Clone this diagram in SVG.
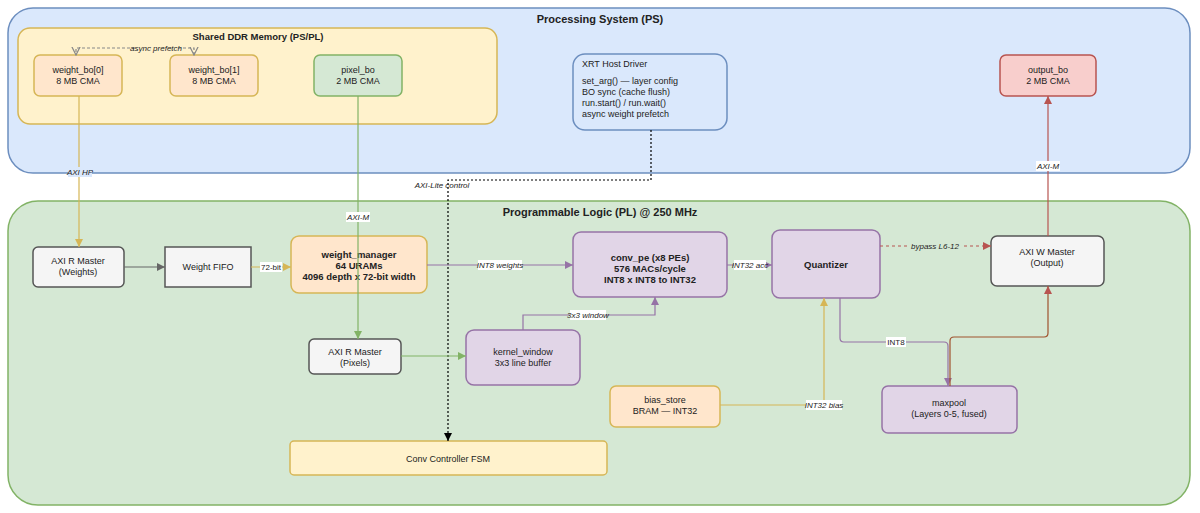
<svg xmlns="http://www.w3.org/2000/svg" width="1200" height="513" viewBox="0 0 1200 513">
<style>
text{font-family:"Liberation Sans",Arial,sans-serif;font-size:9px;fill:#222;text-anchor:middle}
.t{font-weight:bold;font-size:11px}
.b{font-weight:bold;font-size:9.5px}
.l{font-style:italic;font-size:8px}
.lb{fill:#fff}
.ln{fill:none;stroke-width:1.2}
.gray{fill:#f5f5f5;stroke:#555;stroke-width:1.5}
.pur{fill:#e1d5e7;stroke:#9673a6;stroke-width:1.5}
.org{fill:#ffe6cc;stroke:#d6b656;stroke-width:1.5}
.yel{fill:#fff2cc;stroke:#d6b656;stroke-width:1.5}
</style>
<defs>
<marker id="ag" markerWidth="8" markerHeight="8" refX="7" refY="4" orient="auto"><path d="M0,0.5L7,4L0,7.5z" fill="#666"/></marker>
<marker id="ao" markerWidth="8" markerHeight="8" refX="7" refY="4" orient="auto"><path d="M0,0.5L7,4L0,7.5z" fill="#d6b656"/></marker>
<marker id="agr" markerWidth="8" markerHeight="8" refX="7" refY="4" orient="auto"><path d="M0,0.5L7,4L0,7.5z" fill="#82b366"/></marker>
<marker id="ap" markerWidth="8" markerHeight="8" refX="7" refY="4" orient="auto"><path d="M0,0.5L7,4L0,7.5z" fill="#9673a6"/></marker>
<marker id="ar" markerWidth="8" markerHeight="8" refX="7" refY="4" orient="auto"><path d="M0,0.5L7,4L0,7.5z" fill="#b85450"/></marker>
<marker id="ak" markerWidth="8" markerHeight="8" refX="7" refY="4" orient="auto"><path d="M0,0.5L7,4L0,7.5z" fill="#000"/></marker>
<marker id="aopen" markerWidth="8" markerHeight="8" refX="7" refY="4" orient="auto"><path d="M0,0.5L7,4L0,7.5" fill="none" stroke="#888"/></marker>
</defs>
<g id="ps"><rect x="8" y="8" width="1182" height="165" rx="25" fill="#dae8fc" stroke="#6c8ebf" stroke-width="1.5"/><text x="600" y="23" class="t">Processing System (PS)</text></g>
<g id="pl"><rect x="8" y="201" width="1182" height="304" rx="30" fill="#d5e8d4" stroke="#82b366" stroke-width="1.5"/><text x="600" y="216" class="t">Programmable Logic (PL) @ 250 MHz</text></g>
<g id="ddr"><rect x="18" y="28" width="479" height="96" rx="12" class="yel"/><text x="258" y="40" class="b">Shared DDR Memory (PS/PL)</text></g>
<g id="wbo0"><rect x="34" y="55" width="88" height="41" rx="6" class="org"/><text x="78" y="73">weight_bo[0]</text><text x="78" y="84">8 MB CMA</text></g>
<g id="wbo1"><rect x="170" y="55" width="88" height="41" rx="6" class="org"/><text x="214" y="73">weight_bo[1]</text><text x="214" y="84">8 MB CMA</text></g>
<g id="pbo"><rect x="314" y="55" width="88" height="41" rx="6" fill="#d5e8d4" stroke="#82b366" stroke-width="1.5"/><text x="358" y="73">pixel_bo</text><text x="358" y="84">2 MB CMA</text></g>
<g id="xrt"><rect x="573" y="54" width="154" height="76" rx="12" fill="#dae8fc" stroke="#6c8ebf" stroke-width="1.5"/>
<text x="582" y="67" style="text-anchor:start">XRT Host Driver</text>
<text x="582" y="84" style="text-anchor:start">set_arg() — layer config</text>
<text x="582" y="95" style="text-anchor:start">BO sync (cache flush)</text>
<text x="582" y="106" style="text-anchor:start">run.start() / run.wait()</text>
<text x="582" y="117" style="text-anchor:start">async weight prefetch</text></g>
<g id="obo"><rect x="1000" y="55" width="96" height="41" rx="6" fill="#f8cecc" stroke="#b85450" stroke-width="1.5"/><text x="1048" y="73">output_bo</text><text x="1048" y="84">2 MB CMA</text></g>
<g id="axirw"><rect x="33" y="247" width="91" height="40" rx="5" class="gray"/><text x="78" y="264">AXI R Master</text><text x="78" y="275">(Weights)</text></g>
<g id="fifo"><rect x="165" y="247" width="86" height="40" class="gray"/><text x="208" y="270">Weight FIFO</text></g>
<g id="wm"><rect x="291" y="236" width="136" height="57" rx="8" class="org"/><text x="359" y="258" class="b">weight_manager</text><text x="359" y="269" class="b">64 URAMs</text><text x="359" y="280" class="b">4096 depth x 72-bit width</text></g>
<g id="conv"><rect x="573" y="232" width="154" height="65" rx="8" class="pur"/><text x="650" y="261" class="b">conv_pe (x8 PEs)</text><text x="650" y="272" class="b">576 MACs/cycle</text><text x="650" y="283" class="b">INT8 x INT8 to INT32</text></g>
<g id="quant"><rect x="772" y="230" width="108" height="68" rx="8" class="pur"/><text x="826" y="268" class="b">Quantizer</text></g>
<g id="axiw"><rect x="991" y="236" width="113" height="50" rx="6" class="gray"/><text x="1047" y="255">AXI W Master</text><text x="1047" y="266">(Output)</text></g>
<g id="axirp"><rect x="309" y="339" width="92" height="35" rx="5" class="gray"/><text x="355" y="355">AXI R Master</text><text x="355" y="366">(Pixels)</text></g>
<g id="kw"><rect x="466" y="330" width="114" height="55" rx="8" class="pur"/><text x="523" y="355">kernel_window</text><text x="523" y="366">3x3 line buffer</text></g>
<g id="bias"><rect x="610" y="386" width="110" height="41" rx="6" class="org"/><text x="665" y="403">bias_store</text><text x="665" y="414">BRAM — INT32</text></g>
<g id="maxpool"><rect x="882" y="386" width="135" height="47" rx="6" class="pur"/><text x="949" y="406">maxpool</text><text x="949" y="417">(Layers 0-5, fused)</text></g>
<g id="fsm"><rect x="290" y="441" width="317" height="34" rx="4" class="yel"/><text x="448" y="462">Conv Controller FSM</text></g>
<g id="connectors">
<path d="M135,48H76V55" class="ln" stroke="#888" stroke-dasharray="3,2" marker-end="url(#aopen)"/>
<path d="M178,48H194V55" class="ln" stroke="#888" stroke-dasharray="3,2" marker-end="url(#aopen)"/>
<text x="156" y="51" class="l">async prefetch</text>
<path d="M79,96V247" class="ln" stroke="#d6b656" marker-end="url(#ao)"/>
<rect x="68" y="167" width="24" height="10" fill="#dae8fc"/><text x="80" y="175" class="l">AXI HP</text>
<path d="M358,96V339" class="ln" stroke="#82b366" marker-end="url(#agr)"/>
<rect x="346" y="212" width="24" height="10" class="lb"/><text x="358" y="220" class="l">AXI-M</text>
<path d="M651,130V180H448V441" class="ln" stroke="#000" stroke-dasharray="2,2" marker-end="url(#ak)"/>
<text x="442" y="188" class="l">AXI-Lite control</text>
<path d="M124,267H165" class="ln" stroke="#666" marker-end="url(#ag)"/>
<path d="M251,267H291" class="ln" stroke="#d6b656" marker-end="url(#ao)"/>
<rect x="260" y="262" width="22" height="10" class="lb"/><text x="271" y="270" style="font-size:8px">72-bit</text>
<path d="M427,265H573" class="ln" stroke="#9673a6" marker-end="url(#ap)"/>
<rect x="478" y="260" width="44" height="10" class="lb"/><text x="500" y="268" class="l">INT8 weights</text>
<path d="M727,265H772" class="ln" stroke="#9673a6" marker-end="url(#ap)"/>
<rect x="734" y="260" width="32" height="10" class="lb"/><text x="750" y="268" class="l">INT32 acc</text>
<path d="M401,356H466" class="ln" stroke="#82b366" marker-end="url(#agr)"/>
<path d="M523,330V315H655V297" class="ln" stroke="#9673a6" marker-end="url(#ap)"/>
<rect x="570" y="310" width="36" height="10" class="lb"/><text x="588" y="318" class="l">3x3 window</text>
<path d="M720,405H824V298" class="ln" stroke="#d6b656" marker-end="url(#ao)"/>
<rect x="806" y="400" width="36" height="10" class="lb"/><text x="824" y="408" class="l">INT32 bias</text>
<path d="M880,246H991" class="ln" stroke="#b85450" stroke-dasharray="3,3" marker-end="url(#ar)"/>
<rect x="909" y="241" width="52" height="10" fill="#d5e8d4"/><text x="935" y="249" class="l">bypass L6-12</text>
<path d="M840,298V338Q840,342 844,342H944Q948,342 948,346V386" class="ln" stroke="#9673a6" marker-end="url(#ap)"/>
<rect x="886" y="337" width="20" height="10" class="lb"/><text x="896" y="345" style="font-size:8px">INT8</text>
<path d="M950,386V341Q950,337 954,337H1044Q1048,337 1048,333V286" class="ln" stroke="#a0522d" marker-end="url(#ar)"/>
<path d="M1048,236V96" class="ln" stroke="#b85450" marker-end="url(#ar)"/>
<rect x="1036" y="161" width="24" height="10" class="lb"/><text x="1048" y="169" class="l">AXI-M</text>
</g>
</svg>
